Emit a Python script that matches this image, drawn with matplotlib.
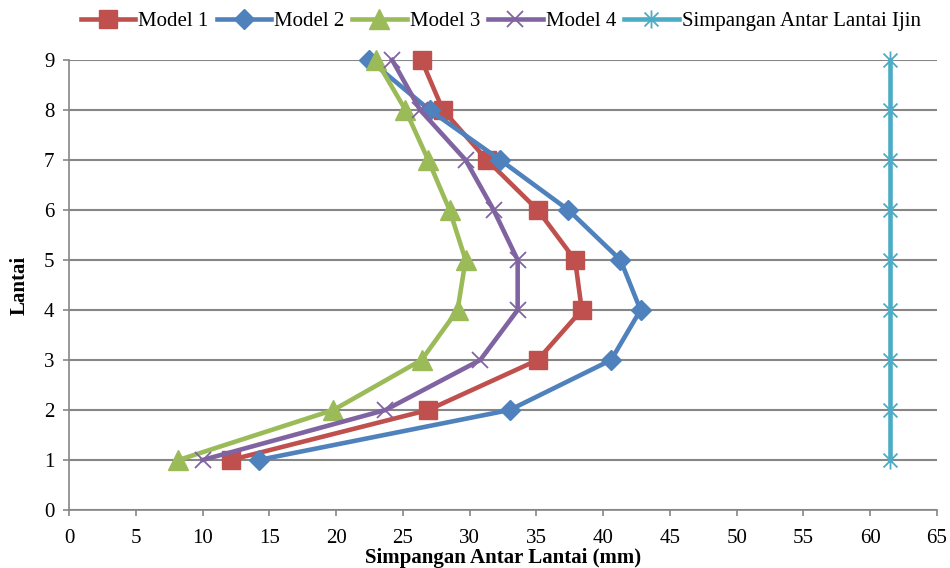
import matplotlib.pyplot as plt
from matplotlib.path import Path

plt.rcParams['font.family'] = ['Liberation Serif', 'DejaVu Serif']

# data simpangan antar lantai (mm)
lantai = [1, 2, 3, 4, 5, 6, 7, 8, 9]
model_1 = [12.1, 26.9, 35.1, 38.4, 37.9, 35.1, 31.3, 28.0, 26.4]
model_2 = [14.2, 33.0, 40.6, 42.8, 41.3, 37.4, 32.3, 27.0, 22.5]
model_3 = [8.2, 19.8, 26.4, 29.1, 29.7, 28.5, 26.9, 25.2, 23.0]
model_4 = [10.0, 23.7, 30.8, 33.6, 33.6, 31.8, 29.7, 26.3, 24.2]
ijin = [61.5] * 9

# marker bintang ala excel (x + garis vertikal)
star = Path([(-1, -1), (1, 1), (-1, 1), (1, -1), (0, -1.3), (0, 1.3)],
            [Path.MOVETO, Path.LINETO, Path.MOVETO, Path.LINETO, Path.MOVETO, Path.LINETO])

fig = plt.figure(figsize=(9.5, 5.68), dpi=100)
ax = fig.add_axes([0.0726, 0.1021, 0.9137, 0.7923])

kw = dict(lw=3.3, clip_on=False, zorder=3)
ax.plot(model_1, lantai, color='#C0504D', marker='s', ms=13, label='Model 1', **kw)
ax.plot(model_2, lantai, color='#4F81BD', marker='D', ms=10, label='Model 2', **kw)
ax.plot(model_3, lantai, color='#9BBB59', marker='^', ms=14, label='Model 3', **kw)
ax.plot(model_4, lantai, color='#8064A2', marker='x', ms=12, mew=1.3, label='Model 4', **kw)
ax.plot(ijin, lantai, color='#4BACC6', marker=star, ms=13, mew=1.3,
        label='Simpangan Antar Lantai Ijin', **kw)

ax.set_xlim(0, 65)
ax.set_ylim(0, 9)
ax.set_xticks(range(0, 66, 5))
ax.set_yticks(range(0, 10))
ax.grid(axis='y', color='#868686', lw=1.5)
ax.set_axisbelow(True)
for s in ['top', 'right']:
    ax.spines[s].set_visible(False)
for s in ['left', 'bottom']:
    ax.spines[s].set_color('#868686')
    ax.spines[s].set_linewidth(1.2)
ax.tick_params(colors='#868686', labelcolor='black', labelsize=15, length=4.5, width=1.2)
ax.tick_params(axis='x', pad=9)
ax.tick_params(axis='y', pad=6)

ax.set_xlabel('Simpangan Antar Lantai (mm)', fontsize=15, fontweight='bold', labelpad=0)
ax.set_ylabel('Lantai', fontsize=15, fontweight='bold', labelpad=10)

fig.legend(loc='center', bbox_to_anchor=(0.527, 0.963), ncol=5, frameon=False,
           fontsize=15, handlelength=2.6, handletextpad=0.15, columnspacing=0.4,
           borderaxespad=0)

fig.savefig('out.png', dpi=100)
